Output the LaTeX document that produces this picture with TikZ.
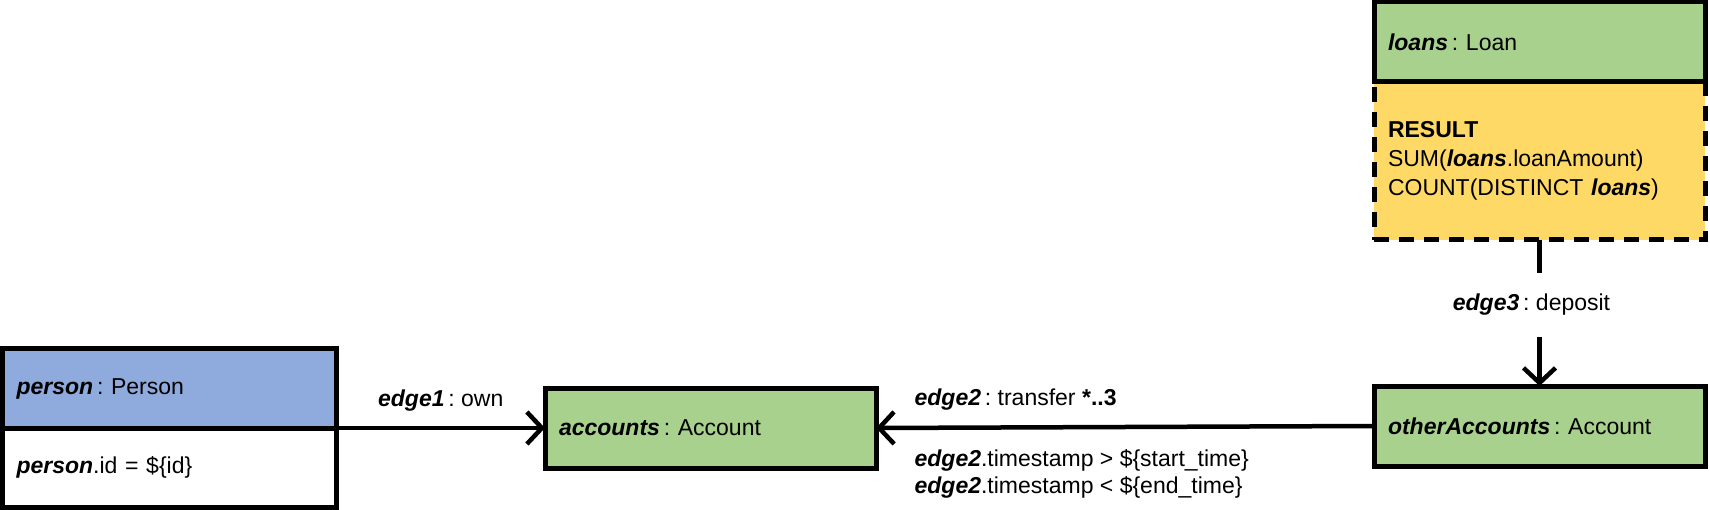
\documentclass[tikz,border=0pt]{standalone}
\usepackage{fontspec}
\setmainfont{Liberation Sans}
\usetikzlibrary{arrows.meta, positioning}
\definecolor{PersonBlue}{HTML}{8FAADC}
\definecolor{NodeGreen}{HTML}{A9D18E}
\definecolor{ResultYellow}{HTML}{FFD966}
\newcommand{\varname}[1]{\textbf{\textit{#1}}}
\frenchspacing

\begin{document}
\begin{tikzpicture}[x=1pt, y=-1pt, >={Straight Barb[length=15pt, width=32pt]},
        every node/.style={font=\fontsize{23}{27}\selectfont},
        nodebox/.style={draw, line width=5pt, anchor=north west, outer sep=0pt, inner xsep=14pt,
            inner ysep=0pt, align=left, text width=#1, minimum height=80pt},
        edgeline/.style={->, line width=4.5pt},
        edgelabel/.style={inner sep=0pt, align=left}]
        \useasboundingbox (0,0) rectangle (1710,510);

        % Person
        \node[nodebox=306pt, fill=PersonBlue, minimum height=79pt] (personHead) at (2.5,349) {\varname{person}\,: Person};
        \node[nodebox=306pt, fill=white, minimum height=79pt, below=0pt of personHead] (personCond) {\varname{person}.id = \$\{id\}};

        % Accounts
        \node[nodebox=303pt, fill=NodeGreen] (accounts) at (545,388) {\varname{accounts}\,: Account};
        \node[nodebox=303pt, fill=NodeGreen] (otherAccounts) at (1374,386) {\varname{otherAccounts}\,: Account};

        % Loans and result
        \node[nodebox=303pt, fill=ResultYellow, minimum height=158pt, dash pattern=on 15pt off 10pt,
            font=\fontsize{23}{29}\selectfont] (result) at (1374,82)
            {\textbf{RESULT}\\SUM(\varname{loans}.loanAmount)\\COUNT(DISTINCT \varname{loans})};
        \node[nodebox=303pt, fill=NodeGreen, above=0pt of result] (loans) {\varname{loans}\,: Loan};

        % Edges
        \draw[edgeline] (personHead.south east) -- (accounts.west)
            node[midway, anchor=base, yshift=22pt, edgelabel] (ownLabel) {\varname{edge1}\,: own};
        \draw[edgeline] (otherAccounts.west) -- (accounts.east)
            node[pos=.927, anchor=base west, yshift=22pt, edgelabel] (transferLabel) {\varname{edge2}\,: transfer \textbf{*..3}}
            node[pos=.927, anchor=north west, yshift=-19pt, edgelabel] (transferCond)
            {\varname{edge2}.timestamp > \$\{start\_time\}\\\varname{edge2}.timestamp < \$\{end\_time\}};
        \draw[edgeline] (result.south) -- (otherAccounts.north)
            node[pos=.445, fill=white, inner sep=0pt, minimum height=64pt, xshift=-8pt] (depositLabel) {\varname{edge3}\,: deposit};
    \end{tikzpicture}
\end{document}
